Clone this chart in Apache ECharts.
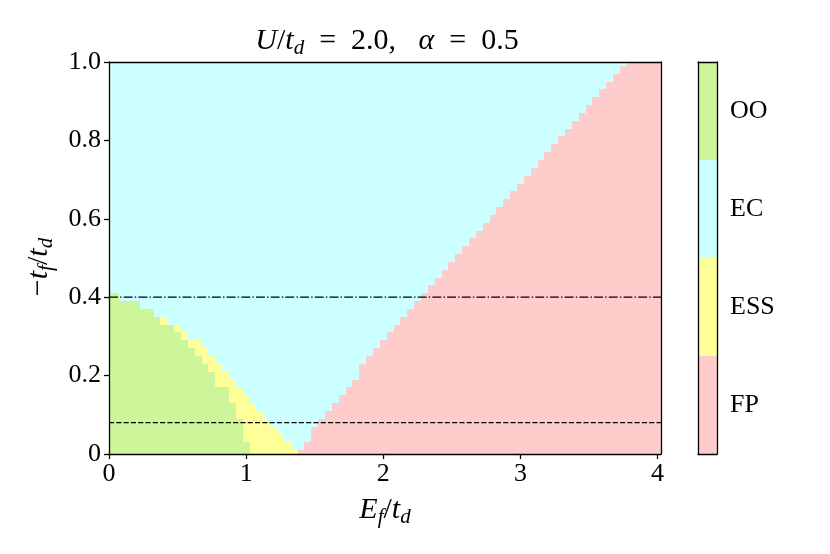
<!DOCTYPE html>
<html>
<head>
<meta charset="utf-8">
<script src="https://cdn.jsdelivr.net/npm/echarts@6/dist/echarts.min.js"></script>
<style>
  html, body { margin: 0; padding: 0; background: #fff; }
  #chart { width: 830px; height: 554px; }
</style>
</head>
<body>
<div id="chart"></div>
<script>
// grid of E_f/t_d values (one column every 0.05)
const efValues = [0.00, 0.05, 0.10, 0.15, 0.20, 0.25, 0.30, 0.35, 0.40, 0.45,
  0.50, 0.55, 0.60, 0.65, 0.70, 0.75, 0.80, 0.85, 0.90, 0.95,
  1.00, 1.05, 1.10, 1.15, 1.20, 1.25, 1.30, 1.35, 1.40, 1.45,
  1.50, 1.55, 1.60, 1.65, 1.70, 1.75, 1.80, 1.85, 1.90, 1.95,
  2.00, 2.05, 2.10, 2.15, 2.20, 2.25, 2.30, 2.35, 2.40, 2.45,
  2.50, 2.55, 2.60, 2.65, 2.70, 2.75, 2.80, 2.85, 2.90, 2.95,
  3.00, 3.05, 3.10, 3.15, 3.20, 3.25, 3.30, 3.35, 3.40, 3.45,
  3.50, 3.55, 3.60, 3.65, 3.70, 3.75, 3.80, 3.85, 3.90, 3.95, 4.00];

// highest -t_f/t_d (step 0.02) of each phase in every column, null = phase absent
// OO sits at the bottom, ESS on top of it
const ooTop = [0.40, 0.40, 0.38, 0.38, 0.38, 0.36, 0.36, 0.34, 0.32, 0.32,
  0.30, 0.28, 0.26, 0.24, 0.22, 0.20, 0.16, 0.16, 0.12, 0.08,
  0.02, null, null, null, null, null, null, null, null, null,
  null, null, null, null, null, null, null, null, null, null,
  null, null, null, null, null, null, null, null, null, null,
  null, null, null, null, null, null, null, null, null, null,
  null, null, null, null, null, null, null, null, null, null,
  null, null, null, null, null, null, null, null, null, null, null];
const essTop = [0.40, 0.40, 0.38, 0.38, 0.38, 0.36, 0.36, 0.34, 0.34, 0.32,
  0.32, 0.30, 0.28, 0.28, 0.26, 0.24, 0.22, 0.20, 0.18, 0.16,
  0.14, 0.12, 0.10, 0.08, 0.06, 0.04, 0.02, 0.00, null, null,
  null, null, null, null, null, null, null, null, null, null,
  null, null, null, null, null, null, null, null, null, null,
  null, null, null, null, null, null, null, null, null, null,
  null, null, null, null, null, null, null, null, null, null,
  null, null, null, null, null, null, null, null, null, null, null];
const fpTop = [null, null, null, null, null, null, null, null, null, null,
  null, null, null, null, null, null, null, null, null, null,
  null, null, null, null, null, null, null, null, 0.00, 0.02,
  0.06, 0.08, 0.10, 0.12, 0.14, 0.16, 0.18, 0.22, 0.24, 0.26,
  0.28, 0.30, 0.32, 0.34, 0.36, 0.38, 0.40, 0.42, 0.44, 0.46,
  0.48, 0.50, 0.52, 0.54, 0.56, 0.58, 0.60, 0.62, 0.64, 0.66,
  0.68, 0.70, 0.72, 0.74, 0.76, 0.78, 0.80, 0.82, 0.84, 0.86,
  0.88, 0.90, 0.92, 0.94, 0.96, 0.98, 1.00, 1.00, 1.00, 1.00, 1.00];

const phaseNames = ['FP', 'ESS', 'EC', 'OO'];
const phaseColors = ['#ffcccc', '#ffff99', '#ccffff', '#cdf69a'];
const colorbarValues = [1, 1, 1, 1];

const efTicks = [0, 1, 2, 3, 4];
const tfTicks = [0, 0.2, 0.4, 0.6, 0.8, 1.0];
const dashDotLevel = 0.4;
const dashedLevel = 0.08;

const efAxisMax = 4.025;
const tfAxisMax = 1.0;
const halfW = 0.025;
const halfH = 0.01;

const FONT = 'Liberation Serif';

// stack the phase segments of each column
const cells = [];
efValues.forEach((ef, i) => {
  let lo = -halfH;
  const push = (top, phase) => {
    const hi = top + halfH;
    if (hi > lo + 1e-9) {
      cells.push([ef, lo, hi, phase]);
      lo = hi;
    }
  };
  if (ooTop[i] != null) push(ooTop[i], 3);
  if (essTop[i] != null) push(essTop[i], 1);
  if (fpTop[i] != null) push(fpTop[i], 0);
  push(tfAxisMax, 2);
});

function renderCell(params, api) {
  const x = api.value(0);
  const p0 = api.coord([x - halfW, api.value(2)]);
  const p1 = api.coord([x + halfW, api.value(1)]);
  const x0 = Math.round(p0[0]), x1 = Math.round(p1[0]);
  const y0 = Math.round(p0[1]), y1 = Math.round(p1[1]);
  const cs = params.coordSys;
  const shape = echarts.graphic.clipRectByRect(
    { x: x0, y: y0, width: x1 - x0, height: y1 - y0 },
    { x: cs.x, y: cs.y, width: cs.width, height: cs.height });
  return shape && {
    type: 'rect',
    shape: shape,
    style: { fill: phaseColors[api.value(3)] }
  };
}

const mathRich = {
  i: { fontFamily: FONT, fontStyle: 'italic', fontSize: 30, lineHeight: 36 },
  s: { fontFamily: FONT, fontStyle: 'italic', fontSize: 21, lineHeight: 22, verticalAlign: 'bottom' }
};

const black = { color: '#000', width: 1.3 };
// secondary axes only draw the frame
const frameAxis = {
  z: 5,
  axisLine: { show: true, onZero: false, lineStyle: black },
  axisTick: { show: false }, axisLabel: { show: false }, splitLine: { show: false }
};

const chart = echarts.init(document.getElementById('chart'));
chart.setOption({
  animation: false,
  backgroundColor: '#fff',
  title: {
    text: '{i|U}/{i|t}{s|d}  =  2.0,   {i|α}  =  0.5',
    left: 382,
    top: 18,
    textAlign: 'center',
    textStyle: {
      fontFamily: FONT, fontWeight: 'normal', fontSize: 30, lineHeight: 36, color: '#000',
      rich: mathRich
    }
  },
  grid: [
    { left: 109, top: 62, width: 552, height: 392 },
    { left: 698, top: 62, width: 19, height: 392 }
  ],
  xAxis: [
    {
      gridIndex: 0, type: 'value', min: 0, max: efAxisMax, position: 'bottom', z: 5,
      name: '{i|E}{s|f}/{i|t}{s|d}', nameLocation: 'middle', nameGap: 36,
      nameTextStyle: { fontFamily: FONT, fontSize: 30, lineHeight: 36, color: '#000', rich: mathRich },
      axisLine: { show: true, onZero: false, lineStyle: black },
      axisTick: { customValues: efTicks, length: 5, lineStyle: black },
      axisLabel: { customValues: efTicks, color: '#000', fontFamily: FONT, fontSize: 26, margin: 7 },
      splitLine: { show: false }
    },
    Object.assign({ gridIndex: 0, type: 'value', min: 0, max: efAxisMax, position: 'top' }, frameAxis),
    Object.assign({ gridIndex: 1, type: 'value', min: 0, max: 1, position: 'bottom' }, frameAxis),
    Object.assign({ gridIndex: 1, type: 'value', min: 0, max: 1, position: 'top' }, frameAxis)
  ],
  yAxis: [
    {
      gridIndex: 0, type: 'value', min: 0, max: tfAxisMax, interval: 0.2, position: 'left', z: 5,
      name: '−{i|t}{s|f}/{i|t}{s|d}', nameLocation: 'middle', nameGap: 52, nameRotate: 90,
      nameTextStyle: {
        fontFamily: FONT, fontSize: 30, lineHeight: 36, color: '#000', rich: mathRich,
        padding: [0, 18, 0, 0]
      },
      axisLine: { show: true, onZero: false, lineStyle: black },
      axisTick: { customValues: tfTicks, length: 5, lineStyle: black },
      axisLabel: {
        customValues: tfTicks, color: '#000', fontFamily: FONT, fontSize: 26, margin: 8,
        formatter: v => (v === 0 ? '0' : v.toFixed(1))
      },
      splitLine: { show: false }
    },
    Object.assign({ gridIndex: 0, type: 'value', min: 0, max: tfAxisMax, position: 'right' }, frameAxis),
    Object.assign({ gridIndex: 1, type: 'category', data: phaseNames, position: 'left' }, frameAxis),
    {
      gridIndex: 1, type: 'category', data: phaseNames, position: 'right', z: 5,
      axisLine: { show: true, onZero: false, lineStyle: black }, axisTick: { show: false },
      axisLabel: { color: '#000', fontFamily: FONT, fontSize: 26, margin: 13 }
    }
  ],
  series: [
    {
      type: 'custom',
      xAxisIndex: 0, yAxisIndex: 0,
      renderItem: renderCell,
      encode: { x: 0, y: [1, 2] },
      data: cells,
      silent: true,
      z: 2
    },
    {
      type: 'line',
      xAxisIndex: 0, yAxisIndex: 0,
      data: [[0, dashDotLevel], [efAxisMax, dashDotLevel]],
      symbol: 'none', silent: true, z: 4,
      lineStyle: { color: '#000', width: 1.3, type: [8.9, 2.2, 1.4, 2.2] }
    },
    {
      type: 'line',
      xAxisIndex: 0, yAxisIndex: 0,
      data: [[0, dashedLevel], [efAxisMax, dashedLevel]],
      symbol: 'none', silent: true, z: 4,
      lineStyle: { color: '#000', width: 1.3, type: [5.1, 2.2] }
    },
    {
      type: 'bar',
      xAxisIndex: 2, yAxisIndex: 3,
      barWidth: '100%', barCategoryGap: '0%',
      silent: true,
      data: colorbarValues.map((v, k) => ({ value: v, itemStyle: { color: phaseColors[k] } }))
    }
  ]
});
</script>
</body>
</html>
